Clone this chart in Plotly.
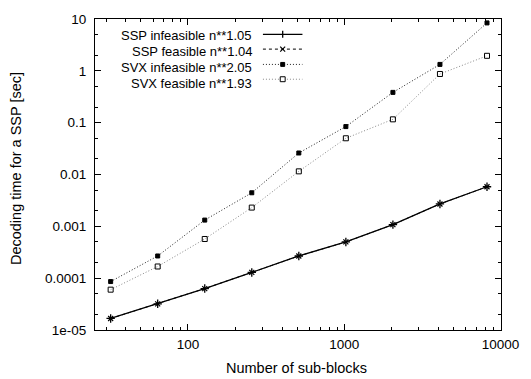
import plotly.graph_objects as go

n_blocks = [32, 64, 128, 256, 512, 1024, 2048, 4096, 8192]
ssp_infeasible = [1.67e-5, 3.2e-5, 6.3e-5, 1.29e-4, 2.68e-4, 5.0e-4, 1.08e-3, 2.7e-3, 5.8e-3]
ssp_feasible = [1.67e-5, 3.2e-5, 6.3e-5, 1.29e-4, 2.68e-4, 5.0e-4, 1.08e-3, 2.7e-3, 5.8e-3]
svx_infeasible = [8.6e-5, 2.68e-4, 1.32e-3, 4.44e-3, 0.026, 0.084, 0.384, 1.33, 8.4]
svx_feasible = [6.0e-5, 1.68e-4, 5.7e-4, 2.3e-3, 0.0115, 0.050, 0.116, 0.87, 1.95]

legend_labels = ["SSP infeasible n**1.05", "SSP feasible n**1.04",
                 "SVX infeasible n**2.05", "SVX feasible n**1.93"]
y_tickvals = [1e-5, 1e-4, 1e-3, 1e-2, 1e-1, 1, 10]
y_ticktext = ["1e-05", "0.0001", "0.001", "0.01", "0.1", "1", "10"]
y_minor = [m * 10.0 ** e for e in range(-5, 1) for m in (2, 5)]
x_tickvals = [100, 1000, 10000]
x_ticktext = ["100", "1000", "10000"]
x_minor = [m * 10.0 ** e for e in range(1, 4) for m in range(2, 10)]
x_title = "Number of sub-blocks"
y_title = "Decoding time for a SSP [sec]"

FONT = "Liberation Sans, Arial, sans-serif"
W, H = 531, 379
ML, MR, MT, MB = 95, 25, 15, 49

styles = [
    dict(color="black", width=1.3, dash="solid", symbol="cross-thin", msize=6, mcolor="black", mline=1.3),
    dict(color="black", width=1.0, dash="3px,3px", symbol="x-thin", msize=5, mcolor="black", mline=1.2),
    dict(color="#222222", width=1.0, dash="1px,2px", symbol="square", msize=4, mcolor="black", mline=1),
    dict(color="#888888", width=1.0, dash="1px,2px", symbol="square-open", msize=5, mcolor="black", mline=1),
]
series = [ssp_infeasible, ssp_feasible, svx_infeasible, svx_feasible]

fig = go.Figure()
for s, st, name in zip(series, styles, legend_labels):
    fig.add_trace(go.Scatter(
        x=n_blocks, y=s, mode="lines+markers", name=name, showlegend=False,
        line=dict(color=st["color"], width=st["width"], dash=st["dash"]),
        marker=dict(symbol=st["symbol"], size=st["msize"], color=st["mcolor"],
                    line=dict(color=st["mcolor"], width=st["mline"])),
    ))

pw, ph = W - ML - MR, H - MT - MB
def px(x):
    return (x - ML) / pw
def py(y):
    return 1 - (y - MT) / ph

# custom legend (text right-aligned, key to the right)
text_rows = [32, 48, 64, 80]
key_rows = [30.5, 45.5, 61, 76]
for lab, ty, ky, st in zip(legend_labels, text_rows, key_rows, styles):
    fig.add_annotation(x=px(256), y=py(ty), xref="paper", yref="paper",
                       text=lab, showarrow=False, xanchor="right", yanchor="middle",
                       font=dict(family=FONT, size=13, color="black"))
    fig.add_shape(type="line", xref="paper", yref="paper",
                  x0=px(265), x1=px(305), y0=py(ky), y1=py(ky),
                  line=dict(color=st["color"], width=st["width"], dash=st["dash"]))
cx = 285
r = 2.5
ky = key_rows
fig.add_shape(type="line", xref="paper", yref="paper", x0=px(cx), x1=px(cx),
              y0=py(ky[0] - 3.5), y1=py(ky[0] + 3.5), line=dict(color="black", width=1.3))
fig.add_shape(type="line", xref="paper", yref="paper", x0=px(cx - r), x1=px(cx + r),
              y0=py(ky[1] - r), y1=py(ky[1] + r), line=dict(color="black", width=1.2))
fig.add_shape(type="line", xref="paper", yref="paper", x0=px(cx - r), x1=px(cx + r),
              y0=py(ky[1] + r), y1=py(ky[1] - r), line=dict(color="black", width=1.2))
fig.add_shape(type="rect", xref="paper", yref="paper", x0=px(cx - 2), x1=px(cx + 2),
              y0=py(ky[2] - 2), y1=py(ky[2] + 2), fillcolor="black", line=dict(color="black", width=1))
fig.add_shape(type="rect", xref="paper", yref="paper", x0=px(cx - 2.5), x1=px(cx + 2.5),
              y0=py(ky[3] - 2.5), y1=py(ky[3] + 2.5), fillcolor="white", line=dict(color="black", width=1))

# axis titles
fig.add_annotation(x=px(299), y=py(368), xref="paper", yref="paper", text=x_title,
                   showarrow=False, xanchor="center", yanchor="middle",
                   font=dict(family=FONT, size=14.5, color="black"))
fig.add_annotation(x=px(15), y=py(166), xref="paper", yref="paper", text=y_title,
                   showarrow=False, xanchor="center", yanchor="middle", textangle=-90,
                   font=dict(family=FONT, size=14.5, color="black"))

axis_common = dict(showline=True, linecolor="black", linewidth=1.2, mirror="allticks",
                   ticks="inside", ticklen=6, tickcolor="black", showgrid=False, zeroline=False,
                   tickfont=dict(family=FONT, size=13.5, color="black"))

fig.update_xaxes(type="log", range=[1.405, 4.003], tickvals=x_tickvals, ticktext=x_ticktext,
                 minor=dict(ticks="inside", ticklen=3, tickcolor="black", showgrid=False,
                            tickvals=x_minor),
                 ticklabelstandoff=2,
                 **axis_common)
fig.update_yaxes(type="log", range=[-5, 1], tickvals=y_tickvals, ticktext=y_ticktext,
                 minor=dict(ticks="inside", ticklen=3, tickcolor="black", showgrid=False,
                            tickvals=y_minor),
                 ticklabelstandoff=5,
                 **axis_common)

fig.update_layout(width=W, height=H, margin=dict(l=ML, r=MR, t=MT, b=MB),
                  paper_bgcolor="white", plot_bgcolor="white",
                  font=dict(family=FONT, size=13, color="black"))

fig.write_html("out.html")
